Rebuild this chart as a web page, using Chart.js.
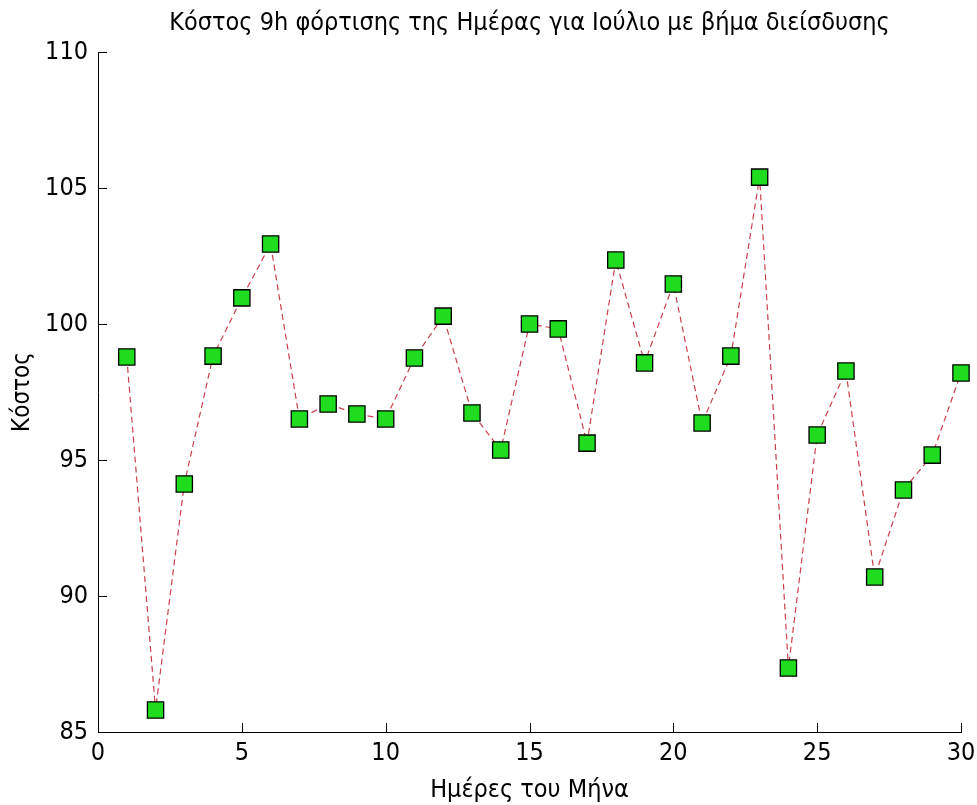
<!DOCTYPE html>
<html lang="el">
<head>
    <meta charset="UTF-8">
    <title>Κόστος 9h φόρτισης</title>
    <script src="https://cdn.jsdelivr.net/npm/chart.js"></script>
    <style>
        body { margin: 0; background: #fff; }
        canvas { display: block; }
    </style>
</head>
<body>
    <canvas id="costChart" width="977" height="805"></canvas>

    <script>
        const days = [1, 2, 3, 4, 5, 6, 7, 8, 9, 10, 11, 12, 13, 14, 15,
                      16, 17, 18, 19, 20, 21, 22, 23, 24, 25, 26, 27, 28, 29, 30];
        const cost = [98.79, 85.81, 94.12, 98.82, 100.96, 102.94, 96.51, 97.06, 96.69, 96.51,
                      98.75, 100.29, 96.73, 95.37, 100.0, 99.82, 95.62, 102.35, 98.57, 101.47,
                      96.36, 98.82, 105.40, 87.35, 95.92, 98.27, 90.70, 93.90, 95.18, 98.20];
        const xTicks = [0, 5, 10, 15, 20, 25, 30];
        const yTicks = [85, 90, 95, 100, 105, 110];

        const FONT = "'Liberation Sans Narrow', 'DejaVu Sans Condensed', sans-serif";

        // matlab style ticks pointing into the plot
        const inwardTicks = {
            id: 'inwardTicks',
            afterDraw(chart) {
                const ctx = chart.ctx;
                const xs = chart.scales.x, ys = chart.scales.y;
                const a = chart.chartArea;
                ctx.save();
                ctx.strokeStyle = '#000';
                ctx.lineWidth = 1;
                ctx.beginPath();
                xTicks.forEach(v => {
                    const px = Math.round(xs.getPixelForValue(v)) + 0.5;
                    ctx.moveTo(px, a.bottom);
                    ctx.lineTo(px, a.bottom - 9);
                });
                yTicks.forEach(v => {
                    const py = Math.round(ys.getPixelForValue(v)) + 0.5;
                    ctx.moveTo(a.left, py);
                    ctx.lineTo(a.left + 9, py);
                });
                ctx.stroke();
                ctx.restore();
            }
        };

        new Chart(document.getElementById('costChart'), {
            type: 'line',
            data: {
                datasets: [{
                    data: days.map((d, i) => ({ x: d, y: cost[i] })),
                    borderColor: 'rgba(190, 30, 45, 0.85)',
                    borderWidth: 1.2,
                    borderDash: [6, 4],
                    tension: 0,
                    clip: false,
                    pointStyle: 'rect',
                    pointRadius: 11.5,
                    pointHoverRadius: 11.5,
                    pointBackgroundColor: '#1fdc1f',
                    pointBorderColor: '#000',
                    pointBorderWidth: 1.3
                }]
            },
            options: {
                responsive: false,
                animation: false,
                layout: { padding: { left: 0, right: 16, top: 0, bottom: 0 } },
                plugins: {
                    legend: { display: false },
                    tooltip: { enabled: false },
                    title: {
                        display: true,
                        fullSize: false,
                        text: 'Κόστος 9h φόρτισης της Ημέρας για Ιούλιο με βήμα διείσδυσης',
                        color: '#000',
                        font: { family: FONT, size: 25, weight: 'normal' },
                        padding: { top: 8, bottom: 14 }
                    }
                },
                scales: {
                    x: {
                        type: 'linear',
                        min: 0, max: 30,
                        afterBuildTicks: s => { s.ticks = xTicks.map(v => ({ value: v })); },
                        ticks: { color: '#000', font: { family: FONT, size: 25 }, padding: 6, maxRotation: 0 },
                        grid: { display: false, drawTicks: false },
                        border: { display: true, color: '#000', width: 1 },
                        title: {
                            display: true,
                            text: 'Ημέρες του Μήνα',
                            color: '#000',
                            font: { family: FONT, size: 25 },
                            padding: { top: 0, bottom: 0 }
                        },
                        afterFit: s => { s.height = 73; s.paddingRight = 0; s.paddingLeft = 0; }
                    },
                    y: {
                        min: 85, max: 110,
                        afterBuildTicks: s => { s.ticks = yTicks.map(v => ({ value: v })); },
                        ticks: { color: '#000', font: { family: FONT, size: 25 }, padding: 10 },
                        grid: { display: false, drawTicks: false },
                        border: { display: true, color: '#000', width: 1 },
                        title: {
                            display: true,
                            text: 'Κόστος',
                            color: '#000',
                            font: { family: FONT, size: 24 },
                            padding: { top: 8, bottom: 6 }
                        },
                        afterFit: s => { s.width = 98; }
                    }
                }
            },
            plugins: [inwardTicks]
        });
    </script>
</body>
</html>
